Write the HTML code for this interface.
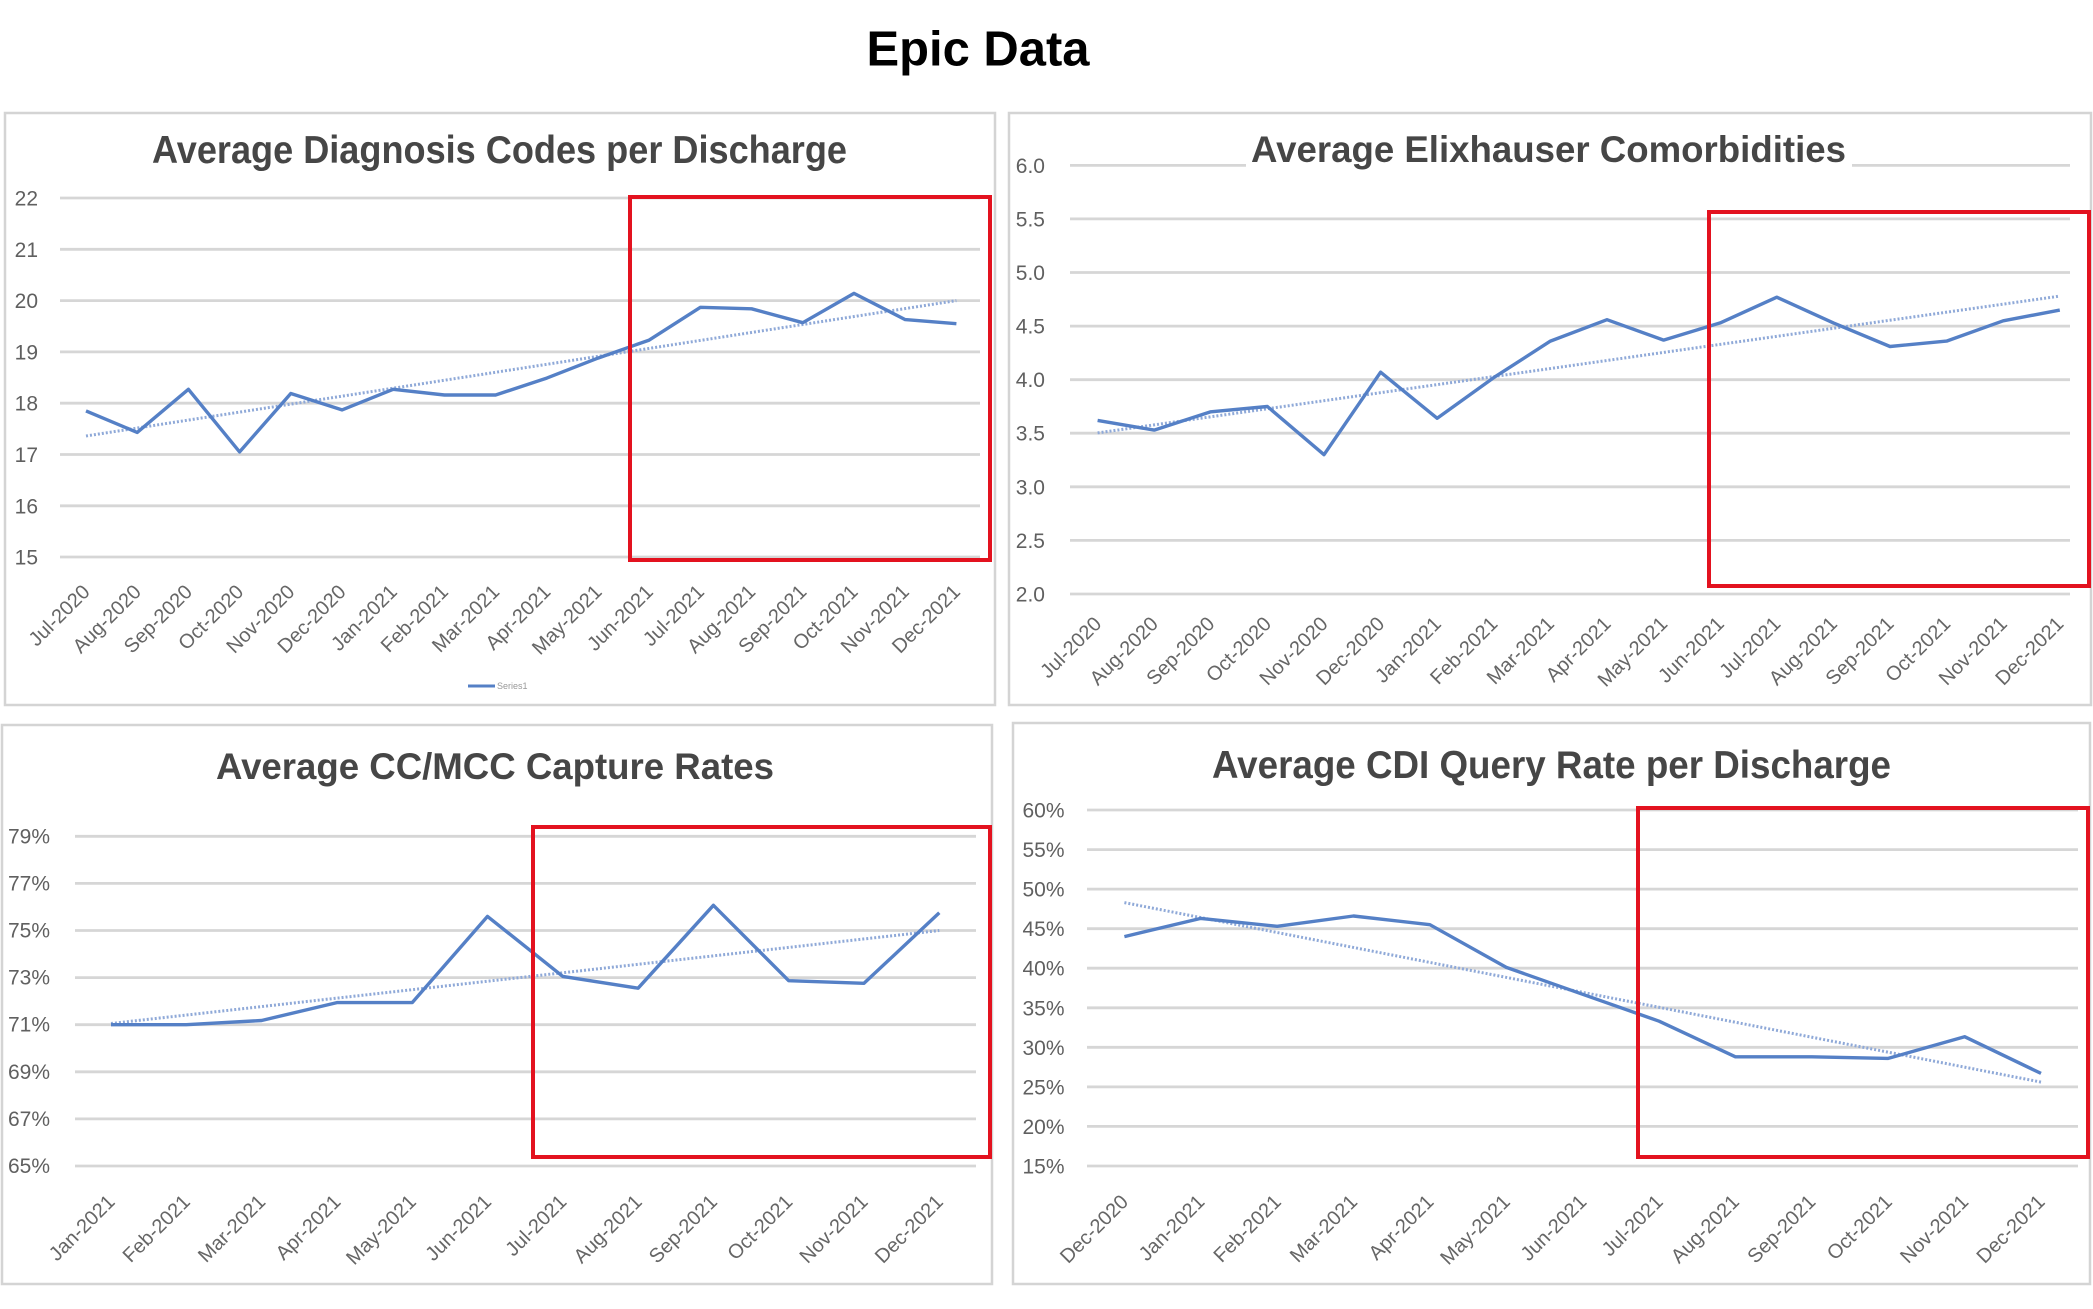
<!DOCTYPE html>
<html><head><meta charset="utf-8"><style>
html,body{margin:0;padding:0;background:#fff;}
svg{display:block;}
text{font-family:"Liberation Sans",Arial,sans-serif;}
.yl{font-size:21px;fill:#606060;text-anchor:end;}
.xl{font-size:20px;fill:#666;text-anchor:end;}
.ttl{font-weight:bold;fill:#464646;}
.grid line{stroke:#d6d6d6;stroke-width:2.8;}
.ser{fill:none;stroke:#5580c6;stroke-width:3.4;stroke-linejoin:round;}
.trd{fill:none;stroke:#8fa9d8;stroke-width:3;stroke-dasharray:2 2;}
.red{fill:none;stroke:#e3121f;stroke-width:4;}
.pan{fill:#fff;stroke:#d4d4d4;stroke-width:2.5;}
</style></head><body>
<svg width="2093" height="1309" viewBox="0 0 2093 1309" xmlns="http://www.w3.org/2000/svg">
<rect width="2093" height="1309" fill="#fff"/>
<text x="978" y="65.5" text-anchor="middle" font-size="49" font-weight="bold" fill="#000" textLength="223" lengthAdjust="spacingAndGlyphs">Epic Data</text>

<!-- Panels -->
<rect class="pan" x="5" y="113" width="990" height="592"/>
<rect class="pan" x="1009" y="113" width="1082" height="592"/>
<rect class="pan" x="2" y="725" width="990" height="559"/>
<rect class="pan" x="1013" y="723" width="1077" height="561"/>

<!-- ===== Panel 1 ===== -->
<text class="ttl" x="152" y="163" font-size="39" textLength="695" lengthAdjust="spacingAndGlyphs">Average Diagnosis Codes per Discharge</text>
<g class="grid">
<line x1="60" x2="980" y1="198" y2="198"/><line x1="60" x2="980" y1="249.3" y2="249.3"/>
<line x1="60" x2="980" y1="300.6" y2="300.6"/><line x1="60" x2="980" y1="351.9" y2="351.9"/>
<line x1="60" x2="980" y1="403.2" y2="403.2"/><line x1="60" x2="980" y1="454.5" y2="454.5"/>
<line x1="60" x2="980" y1="505.8" y2="505.8"/><line x1="60" x2="980" y1="557" y2="557"/>
</g>
<g>
<text class="yl" x="38" y="205.5">22</text><text class="yl" x="38" y="256.8">21</text>
<text class="yl" x="38" y="308.1">20</text><text class="yl" x="38" y="359.4">19</text>
<text class="yl" x="38" y="410.7">18</text><text class="yl" x="38" y="462">17</text>
<text class="yl" x="38" y="513.3">16</text><text class="yl" x="38" y="564.5">15</text>
</g>
<polyline class="trd" points="86,436 956.4,300.6"/>
<polyline class="ser" points="86,410.9 137.2,432.4 188.4,389.3 239.6,451.9 290.8,393.5 342,409.9 393.2,389.3 444.4,395 495.6,395 546.8,378.1 598,358.1 649.2,340.1 700.4,307.3 751.6,308.8 802.8,322.7 854,293.4 905.2,319.6 956.4,323.7"/>
<g>
<text class="xl" transform="translate(91,593) rotate(-45)">Jul-2020</text>
<text class="xl" transform="translate(142.2,593) rotate(-45)">Aug-2020</text>
<text class="xl" transform="translate(193.4,593) rotate(-45)">Sep-2020</text>
<text class="xl" transform="translate(244.6,593) rotate(-45)">Oct-2020</text>
<text class="xl" transform="translate(295.8,593) rotate(-45)">Nov-2020</text>
<text class="xl" transform="translate(347,593) rotate(-45)">Dec-2020</text>
<text class="xl" transform="translate(398.2,593) rotate(-45)">Jan-2021</text>
<text class="xl" transform="translate(449.4,593) rotate(-45)">Feb-2021</text>
<text class="xl" transform="translate(500.6,593) rotate(-45)">Mar-2021</text>
<text class="xl" transform="translate(551.8,593) rotate(-45)">Apr-2021</text>
<text class="xl" transform="translate(603,593) rotate(-45)">May-2021</text>
<text class="xl" transform="translate(654.2,593) rotate(-45)">Jun-2021</text>
<text class="xl" transform="translate(705.4,593) rotate(-45)">Jul-2021</text>
<text class="xl" transform="translate(756.6,593) rotate(-45)">Aug-2021</text>
<text class="xl" transform="translate(807.8,593) rotate(-45)">Sep-2021</text>
<text class="xl" transform="translate(859,593) rotate(-45)">Oct-2021</text>
<text class="xl" transform="translate(910.2,593) rotate(-45)">Nov-2021</text>
<text class="xl" transform="translate(961.4,593) rotate(-45)">Dec-2021</text>
</g>
<line x1="468" x2="495" y1="686" y2="686" stroke="#5580c6" stroke-width="3"/>
<text x="497" y="689" font-size="9" fill="#999">Series1</text>
<rect class="red" x="630" y="197" width="360" height="363"/>

<!-- ===== Panel 2 ===== -->
<g class="grid">
<line x1="1070" x2="2070" y1="165.4" y2="165.4"/><line x1="1070" x2="2070" y1="218.9" y2="218.9"/>
<line x1="1070" x2="2070" y1="272.5" y2="272.5"/><line x1="1070" x2="2070" y1="326.1" y2="326.1"/>
<line x1="1070" x2="2070" y1="379.7" y2="379.7"/><line x1="1070" x2="2070" y1="433.2" y2="433.2"/>
<line x1="1070" x2="2070" y1="486.8" y2="486.8"/><line x1="1070" x2="2070" y1="540.4" y2="540.4"/>
<line x1="1070" x2="2070" y1="594" y2="594"/>
</g>
<rect x="1246" y="130" width="606" height="48" fill="#fff"/>
<text class="ttl" x="1251" y="162" font-size="37" textLength="595" lengthAdjust="spacingAndGlyphs">Average Elixhauser Comorbidities</text>
<g>
<text class="yl" x="1045" y="172.9">6.0</text><text class="yl" x="1045" y="226.4">5.5</text>
<text class="yl" x="1045" y="280">5.0</text><text class="yl" x="1045" y="333.6">4.5</text>
<text class="yl" x="1045" y="387.2">4.0</text><text class="yl" x="1045" y="440.7">3.5</text>
<text class="yl" x="1045" y="494.3">3.0</text><text class="yl" x="1045" y="547.9">2.5</text>
<text class="yl" x="1045" y="601.5">2.0</text>
</g>
<polyline class="trd" points="1097.6,432.9 2059.8,296.1"/>
<polyline class="ser" points="1097.6,420.4 1154.2,430.1 1210.8,411.8 1267.4,406.5 1324,454.7 1380.6,372.2 1437.2,418.3 1493.8,377.6 1550.4,341.1 1607,319.7 1663.6,340.1 1720.2,322.9 1776.8,297.2 1833.4,322.9 1890,346.5 1946.6,341.1 2003.2,320.8 2059.8,310.1"/>
<g>
<text class="xl" transform="translate(1102.6,625) rotate(-45)">Jul-2020</text>
<text class="xl" transform="translate(1159.2,625) rotate(-45)">Aug-2020</text>
<text class="xl" transform="translate(1215.8,625) rotate(-45)">Sep-2020</text>
<text class="xl" transform="translate(1272.4,625) rotate(-45)">Oct-2020</text>
<text class="xl" transform="translate(1329,625) rotate(-45)">Nov-2020</text>
<text class="xl" transform="translate(1385.6,625) rotate(-45)">Dec-2020</text>
<text class="xl" transform="translate(1442.2,625) rotate(-45)">Jan-2021</text>
<text class="xl" transform="translate(1498.8,625) rotate(-45)">Feb-2021</text>
<text class="xl" transform="translate(1555.4,625) rotate(-45)">Mar-2021</text>
<text class="xl" transform="translate(1612,625) rotate(-45)">Apr-2021</text>
<text class="xl" transform="translate(1668.6,625) rotate(-45)">May-2021</text>
<text class="xl" transform="translate(1725.2,625) rotate(-45)">Jun-2021</text>
<text class="xl" transform="translate(1781.8,625) rotate(-45)">Jul-2021</text>
<text class="xl" transform="translate(1838.4,625) rotate(-45)">Aug-2021</text>
<text class="xl" transform="translate(1895,625) rotate(-45)">Sep-2021</text>
<text class="xl" transform="translate(1951.6,625) rotate(-45)">Oct-2021</text>
<text class="xl" transform="translate(2008.2,625) rotate(-45)">Nov-2021</text>
<text class="xl" transform="translate(2064.8,625) rotate(-45)">Dec-2021</text>
</g>
<rect class="red" x="1709" y="212" width="380" height="374"/>

<!-- ===== Panel 3 ===== -->
<text class="ttl" x="216" y="779" font-size="37" textLength="558" lengthAdjust="spacingAndGlyphs">Average CC/MCC Capture Rates</text>
<g class="grid">
<line x1="75" x2="976" y1="836.3" y2="836.3"/><line x1="75" x2="976" y1="883.4" y2="883.4"/>
<line x1="75" x2="976" y1="930.5" y2="930.5"/><line x1="75" x2="976" y1="977.6" y2="977.6"/>
<line x1="75" x2="976" y1="1024.7" y2="1024.7"/><line x1="75" x2="976" y1="1071.8" y2="1071.8"/>
<line x1="75" x2="976" y1="1118.9" y2="1118.9"/><line x1="75" x2="976" y1="1166" y2="1166"/>
</g>
<g>
<text class="yl" x="50" y="843.3" font-size="20">79%</text><text class="yl" x="50" y="890.4" font-size="20">77%</text>
<text class="yl" x="50" y="937.5" font-size="20">75%</text><text class="yl" x="50" y="984.6" font-size="20">73%</text>
<text class="yl" x="50" y="1031.7" font-size="20">71%</text><text class="yl" x="50" y="1078.8" font-size="20">69%</text>
<text class="yl" x="50" y="1125.9" font-size="20">67%</text><text class="yl" x="50" y="1173" font-size="20">65%</text>
</g>
<polyline class="trd" points="111,1023.5 939.3,930.5"/>
<polyline class="ser" points="111,1024.7 186.3,1024.7 261.6,1020.5 336.9,1002.6 412.2,1002.6 487.5,916.4 562.8,976.4 638.1,988.2 713.4,905.3 788.7,980.7 864,983.3 939.3,912.8"/>
<g>
<text class="xl" transform="translate(116,1203) rotate(-45)">Jan-2021</text>
<text class="xl" transform="translate(191.3,1203) rotate(-45)">Feb-2021</text>
<text class="xl" transform="translate(266.6,1203) rotate(-45)">Mar-2021</text>
<text class="xl" transform="translate(341.9,1203) rotate(-45)">Apr-2021</text>
<text class="xl" transform="translate(417.2,1203) rotate(-45)">May-2021</text>
<text class="xl" transform="translate(492.5,1203) rotate(-45)">Jun-2021</text>
<text class="xl" transform="translate(567.8,1203) rotate(-45)">Jul-2021</text>
<text class="xl" transform="translate(643.1,1203) rotate(-45)">Aug-2021</text>
<text class="xl" transform="translate(718.4,1203) rotate(-45)">Sep-2021</text>
<text class="xl" transform="translate(793.7,1203) rotate(-45)">Oct-2021</text>
<text class="xl" transform="translate(869,1203) rotate(-45)">Nov-2021</text>
<text class="xl" transform="translate(944.3,1203) rotate(-45)">Dec-2021</text>
</g>
<rect class="red" x="533" y="827" width="457" height="330"/>

<!-- ===== Panel 4 ===== -->
<text class="ttl" x="1212" y="778" font-size="39" textLength="679" lengthAdjust="spacingAndGlyphs">Average CDI Query Rate per Discharge</text>
<g class="grid">
<line x1="1087" x2="2078" y1="810" y2="810"/><line x1="1087" x2="2078" y1="849.6" y2="849.6"/>
<line x1="1087" x2="2078" y1="889.1" y2="889.1"/><line x1="1087" x2="2078" y1="928.7" y2="928.7"/>
<line x1="1087" x2="2078" y1="968.2" y2="968.2"/><line x1="1087" x2="2078" y1="1007.8" y2="1007.8"/>
<line x1="1087" x2="2078" y1="1047.3" y2="1047.3"/><line x1="1087" x2="2078" y1="1086.9" y2="1086.9"/>
<line x1="1087" x2="2078" y1="1126.4" y2="1126.4"/><line x1="1087" x2="2078" y1="1166" y2="1166"/>
</g>
<g>
<text class="yl" x="1064.5" y="817.5">60%</text><text class="yl" x="1064.5" y="857.1">55%</text>
<text class="yl" x="1064.5" y="896.6">50%</text><text class="yl" x="1064.5" y="936.2">45%</text>
<text class="yl" x="1064.5" y="975.7">40%</text><text class="yl" x="1064.5" y="1015.3">35%</text>
<text class="yl" x="1064.5" y="1054.8">30%</text><text class="yl" x="1064.5" y="1094.4">25%</text>
<text class="yl" x="1064.5" y="1133.9">20%</text><text class="yl" x="1064.5" y="1173.5">15%</text>
</g>
<polyline class="trd" points="1124.4,902.6 2041,1082.1"/>
<polyline class="ser" points="1124.4,936.6 1200.8,918.4 1277.2,926.3 1353.5,916 1429.9,924.7 1506.3,967.4 1582.7,994.3 1659.1,1021.2 1735.4,1056.8 1811.8,1056.8 1888.2,1058.4 1964.6,1036.7 2041,1073.4"/>
<g>
<text class="xl" transform="translate(1129.4,1203) rotate(-45)">Dec-2020</text>
<text class="xl" transform="translate(1205.8,1203) rotate(-45)">Jan-2021</text>
<text class="xl" transform="translate(1282.2,1203) rotate(-45)">Feb-2021</text>
<text class="xl" transform="translate(1358.5,1203) rotate(-45)">Mar-2021</text>
<text class="xl" transform="translate(1434.9,1203) rotate(-45)">Apr-2021</text>
<text class="xl" transform="translate(1511.3,1203) rotate(-45)">May-2021</text>
<text class="xl" transform="translate(1587.7,1203) rotate(-45)">Jun-2021</text>
<text class="xl" transform="translate(1664.1,1203) rotate(-45)">Jul-2021</text>
<text class="xl" transform="translate(1740.4,1203) rotate(-45)">Aug-2021</text>
<text class="xl" transform="translate(1816.8,1203) rotate(-45)">Sep-2021</text>
<text class="xl" transform="translate(1893.2,1203) rotate(-45)">Oct-2021</text>
<text class="xl" transform="translate(1969.6,1203) rotate(-45)">Nov-2021</text>
<text class="xl" transform="translate(2046,1203) rotate(-45)">Dec-2021</text>
</g>
<rect class="red" x="1638" y="808" width="450" height="349"/>
</svg>
</body></html>
